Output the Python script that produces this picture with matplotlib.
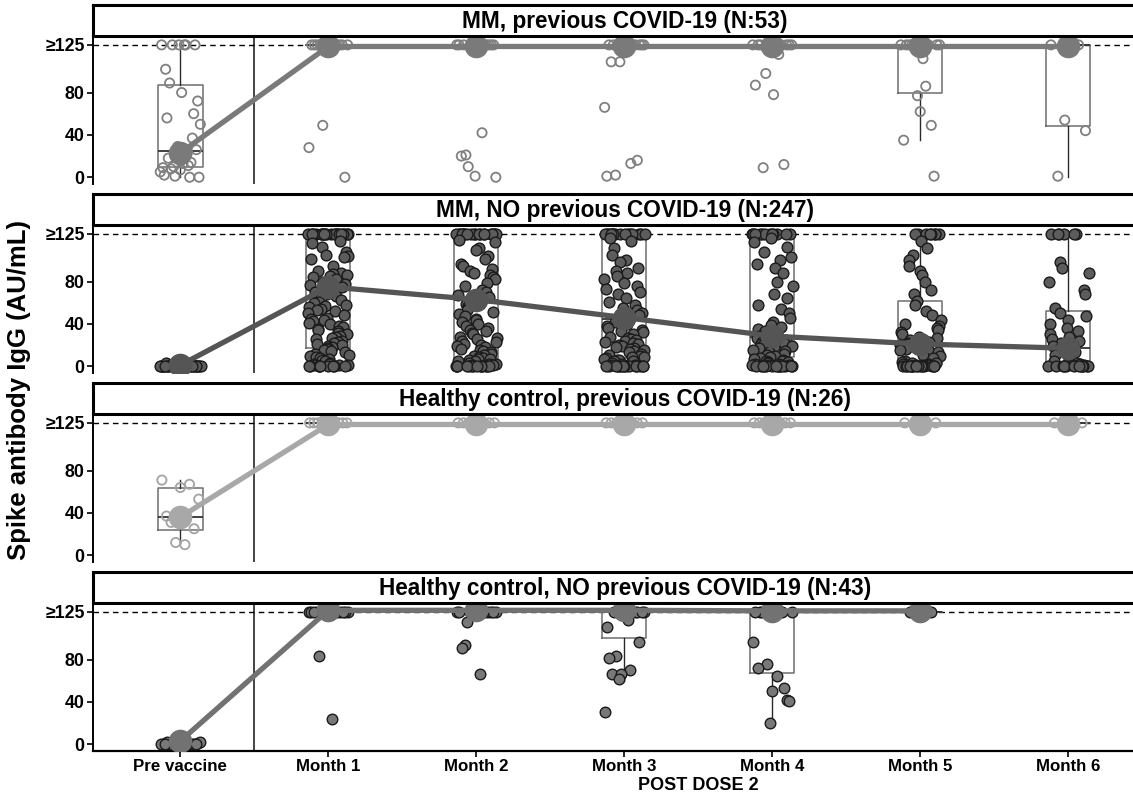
import matplotlib
matplotlib.use("Agg")
import matplotlib.pyplot as plt
import matplotlib.transforms as mtransforms
import numpy as np

plt.rcParams['font.family'] = ['Liberation Sans', 'DejaVu Sans']
plt.rcParams['font.weight'] = 'bold'

# ---------------- data ----------------
categories = ["Pre vaccine", "Month 1", "Month 2", "Month 3", "Month 4", "Month 5", "Month 6"]
ytick_vals = [0, 40, 80, 125]
ytick_labels = ["0", "40", "80", "\u2265125"]
panel_titles = ["MM, previous COVID-19 (N:53)",
                "MM, NO previous COVID-19 (N:247)",
                "Healthy control, previous COVID-19 (N:26)",
                "Healthy control, NO previous COVID-19 (N:43)"]
x_title = "POST DOSE 2"
y_title = "Spike antibody IgG (AU/mL)"

# Panel 1: MM, previous COVID-19
p1_pre = [125, 125, 125, 125, 125, 125, 102, 89, 80, 72, 60, 56, 50, 37, 29, 26, 24, 22,
          18, 14, 13, 11, 10, 9, 8, 7, 5, 2, 1, 0, 0]
p1_m1 = [125] * 12 + [49, 28, 0]
p1_m2 = [125] * 12 + [42, 21, 20, 10, 1, 0]
p1_m3 = [125] * 12 + [109, 109, 66, 16, 13, 2, 1]
p1_m4 = [125] * 10 + [116, 98, 87, 78, 12, 9]
p1_m5 = [125] * 8 + [112, 86, 77, 62, 49, 35, 1]
p1_m6 = [125] * 3 + [54, 44, 1]
p1_median = [23, 123.5, 123.5, 123.5, 123.5, 123.5, 123.5]
# (whislo, q1, median, q3, whishi)
p1_box = [(0, 10, 25, 87, 125), (125, 125, 125, 125, 125), (125, 125, 125, 125, 125),
          (125, 125, 125, 125, 125), (125, 125, 125, 125, 125), (35, 80, 125, 125, 125),
          (0, 48, 125, 125, 125)]

# Panel 2: MM, NO previous COVID-19
p2_pre = [0, 0, 1, 0, 2, 0, 0, 1, 0, 3, 0, 0, 1, 0, 0, 2, 0, 0, 1, 0,
          0, 0, 2, 0, 1, 0, 0, 0, 1, 0, 0, 3, 0, 0, 1, 0, 0, 2, 0, 0]
p2_m1 = ([125] * 22 + [118, 116, 113, 108, 105, 104, 103, 101] +
         [95, 90, 88, 87, 86, 85, 84, 82, 80, 78, 77, 75, 72, 70, 68, 66, 64, 63, 61, 60] +
         [58, 57, 56, 54, 53, 52, 50, 48, 46, 45, 44, 43, 41, 40, 38, 37, 35, 34, 33, 31,
          30, 29, 28, 27, 26] +
         [24, 23, 22, 21, 20, 19, 18, 17, 16, 15, 14, 13, 12, 11, 10, 9, 8, 7, 6, 5] +
         [3, 2, 2, 1, 1, 1, 0, 0, 0, 0, 0, 0, 0, 0, 0])
p2_m2 = ([125] * 20 + [119, 117, 112, 110, 104, 101] +
         [97, 95, 92, 90, 88, 86, 84, 82, 79, 76, 72, 70, 67, 65, 62] +
         [59, 57, 55, 53, 51, 49, 47, 45, 44, 42, 40, 38, 36, 34, 33, 31, 30, 28, 27, 26] +
         [24, 23, 21, 20, 19, 18, 16, 15, 14, 13, 12, 11, 10, 9, 8, 7, 7, 6, 5, 5] +
         [3, 2, 2, 1, 1, 0, 0, 0, 0, 0, 0, 0, 0, 0, 0, 0, 0, 0, 0])
p2_m3 = ([125] * 16 + [121, 118, 112, 105, 100, 98] +
         [93, 90, 88, 85, 82, 79, 76, 73, 70, 68, 64, 61] +
         [58, 55, 53, 50, 48, 46, 44, 42, 40, 38, 36, 34, 33, 32, 30] +
         [28, 27, 26, 25, 24, 23, 22, 21, 20, 19, 18, 17, 16, 15, 14, 13, 12, 11, 10, 9,
          9, 8, 7, 6, 6, 5, 5] +
         [3, 2, 1, 1, 0, 0, 0, 0, 0, 0, 0, 0, 0, 0, 0, 0, 0, 0, 0])
p2_m4 = ([125] * 12 + [121, 117, 113, 108, 103, 100, 97, 93, 88, 80, 76] +
         [68, 64, 58, 54, 50, 46, 42] +
         [39, 37, 35, 33, 31, 29, 27, 25, 23, 22, 21, 20, 19, 18, 17, 15, 14, 13, 12, 11] +
         [10, 9, 8, 7, 6, 5, 5, 4, 4, 3] +
         [2, 2, 1, 1, 1, 0, 0, 0, 0, 0, 0, 0, 0, 0, 0, 0, 0, 0, 0])
p2_m5 = ([125] * 8 + [118, 112, 105, 100, 95, 90, 86, 80] +
         [72, 68, 62, 58, 52, 48, 44, 40, 38, 36] +
         [34, 32, 30, 28, 27, 26, 25, 24, 23, 22, 21, 20, 18, 16, 15, 14, 13, 11, 10, 8] +
         [5, 4, 3, 3, 2, 2, 1, 1, 1, 0, 0, 0, 0, 0, 0, 0, 0, 0, 0, 0, 0, 0, 0, 0])
p2_m6 = ([125] * 6 + [98, 93, 88, 80, 72, 68] +
         [55, 50, 47, 44, 40, 36, 33, 30, 28, 26] +
         [24, 22, 20, 19, 18, 17, 15, 13, 11, 9, 7, 5] +
         [3, 2, 1, 1, 0, 0, 0, 0, 0, 0, 0, 0, 0, 0, 0, 0])
p2_median = [1, 75, 63, 46, 28.5, 21, 17]
p2_box = [(0, 0, 0, 0, 0), (0, 17, 73, 120, 125), (0, 7, 63, 120, 125),
          (0, 8, 45, 125, 125), (0, 9, 28, 125, 125), (0, 2.5, 21, 62, 125),
          (0, 2.5, 17, 52, 125)]

# Panel 3: Healthy control, previous COVID-19
p3_pre = [71, 67, 64, 53, 37, 31, 25, 12, 10]
p3_m1 = [125] * 10
p3_m2 = [125] * 8
p3_m3 = [125] * 8
p3_m4 = [125] * 8
p3_m5 = [125] * 4
p3_m6 = [125] * 3
p3_median = [36, 123.5, 123.5, 123.5, 123.5, 123.5, 123.5]
p3_box = [(12, 24, 36, 63.5, 71), (125, 125, 125, 125, 125), (125, 125, 125, 125, 125),
          (125, 125, 125, 125, 125), (125, 125, 125, 125, 125), (125, 125, 125, 125, 125),
          (125, 125, 125, 125, 125)]

# Panel 4: Healthy control, NO previous COVID-19
p4_pre = [0, 1, 0, 0, 2, 0, 1, 0, 0, 0, 1, 0, 2, 0, 0, 1, 0, 0, 0, 0]
p4_m1 = [125] * 14 + [83, 24]
p4_m2 = [125] * 12 + [115, 94, 91, 66]
p4_m3 = [125] * 8 + [117, 111, 97, 83, 81, 70, 66, 66, 62, 30]
p4_m4 = [125] * 8 + [97, 76, 72, 64, 53, 50, 42, 41, 20]
p4_m5 = [125] * 2
p4_m6 = []
p4_median = [3, 126.5, 126.5, 126.5, 126, 126, np.nan]
p4_box = [(0, 0, 0, 0, 0), (125, 125, 125, 125, 125), (125, 125, 125, 125, 125),
          (60, 100, 125, 125, 125), (20, 67, 125, 125, 125), (125, 125, 125, 125, 125),
          None]

panels = [
    dict(points=[p1_pre, p1_m1, p1_m2, p1_m3, p1_m4, p1_m5, p1_m6], median=p1_median, box=p1_box,
         face='none', edge='#808080', line='#7a7a7a', s=44, lw=1.3),
    dict(points=[p2_pre, p2_m1, p2_m2, p2_m3, p2_m4, p2_m5, p2_m6], median=p2_median, box=p2_box,
         face='#5c5c5c', edge='#1a1a1a', line='#555555', s=60, lw=1.0),
    dict(points=[p3_pre, p3_m1, p3_m2, p3_m3, p3_m4, p3_m5, p3_m6], median=p3_median, box=p3_box,
         face='none', edge='#a3a3a3', line='#a8a8a8', s=44, lw=1.3),
    dict(points=[p4_pre, p4_m1, p4_m2, p4_m3, p4_m4, p4_m5, p4_m6], median=p4_median, box=p4_box,
         face='#787878', edge='#1a1a1a', line='#727272', s=58, lw=1.0),
]

# ---------------- layout ----------------
W, H = 1133, 793
fig = plt.figure(figsize=(W / 100, H / 100), dpi=100)
left_px, right_px = 93, 1157
plot_tops = [36, 225, 414, 603]
plot_h, strip_h = 148, 31


def frac(x0, top, w, h):
    return [x0 / W, 1 - (top + h) / H, w / W, h / H]


def jitter(n, phase):
    # deterministic, evenly stratified horizontal offsets (layout only, not data)
    i = np.arange(n) + 1.0
    h = np.sin(i * 12.9898 + phase * 78.233) * 43758.5453
    order = np.argsort(np.argsort(h - np.floor(h)))
    return ((order + 0.5) / n - 0.5) * 0.28


xpos = np.arange(len(categories))
axes = []
for k, (pan, top) in enumerate(zip(panels, plot_tops)):
    ax = fig.add_axes(frac(left_px, top, right_px - left_px, plot_h))
    axes.append(ax)
    ax.set_xlim(-0.59, 6.6)
    ax.set_ylim(-6.4, 133.4)
    ax.set_facecolor('white')

    ax.axvline(0.5, color='#444444', lw=1.4, zorder=1)
    ax.axhline(125, color='black', lw=1.0, ls=(0, (4, 3)), zorder=1)

    stats, pos = [], []
    for i, b in enumerate(pan['box']):
        if b is None:
            continue
        stats.append(dict(whislo=b[0], q1=b[1], med=b[2], q3=b[3], whishi=b[4]))
        pos.append(xpos[i])
    ax.bxp(stats, positions=pos, widths=0.3, showfliers=False, showcaps=False,
           boxprops=dict(color='#6e6e6e', lw=1.1),
           medianprops=dict(color='#333333', lw=1.3),
           whiskerprops=dict(color='#2a2a2a', lw=1.0),
           manage_ticks=False, zorder=2)

    for i, vals in enumerate(pan['points']):
        if len(vals) == 0:
            continue
        xs = xpos[i] + jitter(len(vals), 0.37 * i + 0.11 * k)
        ax.scatter(xs, vals, s=pan['s'], facecolors=pan['face'], edgecolors=pan['edge'],
                   linewidths=pan['lw'], zorder=3)

    ax.plot(xpos, pan['median'], color=pan['line'], lw=3.8, marker='o', markersize=16,
            markerfacecolor=pan['line'], markeredgecolor=pan['line'], zorder=4,
            solid_capstyle='round')

    for side in ['top', 'right']:
        ax.spines[side].set_visible(False)
    ax.spines['left'].set_linewidth(1.4)
    ax.spines['left'].set_color('black')
    ax.set_yticks(ytick_vals)
    ax.set_yticklabels(ytick_labels, fontsize=12.8, fontweight='bold')
    ax.tick_params(axis='y', length=4, width=1.2, pad=2, colors='black')
    if k < 3:
        ax.spines['bottom'].set_visible(False)
        ax.tick_params(axis='x', bottom=False, labelbottom=False)
    else:
        ax.spines['bottom'].set_linewidth(1.6)
        ax.set_xticks(xpos)
        ax.set_xticklabels(categories, fontsize=12.2, fontweight='bold')
        ax.tick_params(axis='x', length=4, width=1.2, pad=2)

    # strip
    sax = fig.add_axes(frac(left_px, top - strip_h, right_px - left_px, strip_h))
    sax.set_xticks([])
    sax.set_yticks([])
    for sp in sax.spines.values():
        sp.set_linewidth(2.2)
        sp.set_color('black')
    sax.text(0.5, 0.47, panel_titles[k], transform=sax.transAxes, ha='center', va='center',
             fontsize=16.3, fontweight='bold')

# axis titles
trans = mtransforms.blended_transform_factory(axes[3].transData, fig.transFigure)
axes[3].text(3.5, 1 - 785 / H, x_title, transform=trans, ha='center', va='center',
             fontsize=13, fontweight='bold')
fig.text(19 / W, 1 - 390 / H, y_title, rotation=90, ha='center', va='center',
         fontsize=18.5, fontweight='bold')

fig.savefig('out.png', dpi=100)
